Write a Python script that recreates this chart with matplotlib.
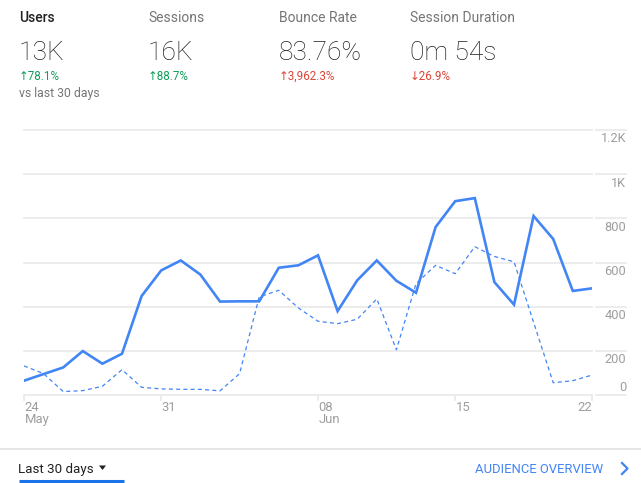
import matplotlib
matplotlib.use("Agg")
import matplotlib.pyplot as plt
from matplotlib.lines import Line2D
from matplotlib.patches import Polygon

plt.rcParams['font.family'] = ['Roboto', 'DejaVu Sans']

# Users per day, 24 May .. 22 Jun, and the previous 30 days (dashed)
users = [66, 96, 126, 200, 143, 188, 449, 565, 610, 546, 424, 425, 425, 577, 588,
         633, 381, 520, 610, 518, 464, 761, 878, 892, 512, 410, 811, 707, 472, 484]
previous = [133, 98, 17, 21, 41, 116, 36, 29, 27, 27, 20, 98, 445, 475, 395,
            335, 324, 344, 436, 206, 505, 588, 550, 672, 628, 604, 330, 57, 66, 92]

x_ticks = [0, 7, 15, 22, 29]
x_days = ["24", "31", "08", "15", "22"]
x_months = ["May", "", "Jun", "", ""]

y_ticks = [0, 200, 400, 600, 800, 1000, 1200]
y_labels = ["0", "200", "400", "600", "800", "1K", "1.2K"]

metric_names = ["Users", "Sessions", "Bounce Rate", "Session Duration"]
metric_values = ["13K", "16K", "83.76%", "0m 54s"]
metric_changes = ["\u219178.1%", "\u219188.7%", "\u21913,962.3%", "\u219326.9%"]
change_good = [True, True, False, False]

W, H = 641, 483
BLUE = "#4285f4"
GRID = "#ebebeb"
LABEL = "#9e9e9e"


def fx(x):
    return x / W


def fy(y):
    return 1 - y / H


fig = plt.figure(figsize=(W / 100, H / 100), dpi=100)

# plot area: x 24..592.4 px, value 0 at y=395.3, 1200 at y=130
left, right, top, bottom = 24, 592.4, 130, 395.3
ax = fig.add_axes([fx(left), fy(bottom), fx(right - left), (bottom - top) / H])
ax.set_xlim(0, len(users) - 1)
ax.set_ylim(0, 1200)
for s in ax.spines.values():
    s.set_visible(False)
ax.set_xticks([])
ax.set_yticks([])

aw = right - left
for v, lab in zip(y_ticks, y_labels):
    ax.axhline(v, color=GRID, lw=1.3, clip_on=False, zorder=0)
    ax.axhline(v, xmin=(596 - left) / aw, xmax=(626 - left) / aw,
               color=GRID, lw=1.3, clip_on=False, zorder=0)
    dy = 4.3 if v == 0 else -12.3
    ax.annotate(lab, xy=(1, v), xycoords=ax.get_yaxis_transform(),
                xytext=(626 - right, dy), textcoords="offset pixels",
                ha="right", va="baseline", fontsize=9.2, color=LABEL,
                annotation_clip=False)

last = len(users) - 1
for i, d, m in zip(x_ticks, x_days, x_months):
    ha = "right" if i == last else "left"
    ox = -0.5 if i == last else 0.5
    ax.plot([i, i], [0, -5 / 0.2211], color=GRID, lw=1.3, clip_on=False, zorder=0)
    ax.annotate(d, xy=(i, 0), xycoords="data", xytext=(ox, -15.5),
                textcoords="offset pixels", ha=ha, va="baseline",
                fontsize=9.4, color=LABEL, annotation_clip=False)
    if m:
        ax.annotate(m, xy=(i, 0), xycoords="data", xytext=(ox, -27.5),
                    textcoords="offset pixels", ha=ha, va="baseline",
                    fontsize=9.4, color=LABEL, annotation_clip=False)

days = list(range(len(users)))
ax.plot(days, previous, color=BLUE, lw=0.9, dashes=(3.2, 2.6), zorder=2)
ax.plot(days, users, color=BLUE, lw=1.9, zorder=3, solid_joinstyle="miter")

# metric header
cols = [19, 148, 279, 410]
for k, (name, val, ch, good) in enumerate(zip(metric_names, metric_values,
                                                metric_changes, change_good)):
    x = fx(cols[k])
    fig.text(x, fy(21.7), name, fontsize=10, ha="left", va="baseline",
             color="#212121" if k == 0 else "#757575",
             fontweight="medium" if k == 0 else "normal")
    fig.text(x, fy(60), val, fontsize=19, ha="left", va="baseline",
             color="#202020", fontweight="light")
    fig.text(x, fy(80), ch, fontsize=8.4, ha="left", va="baseline",
             color="#0f9d58" if good else "#db4437")
fig.text(fx(19), fy(97.3), "vs last 30 days", fontsize=8.8, ha="left",
         va="baseline", color="#757575")

# footer
fig.add_artist(Line2D([0, 1], [fy(449.3), fy(449.3)], transform=fig.transFigure,
                      color="#e0e0e0", lw=1.2))
fig.text(fx(18.5), fy(472.7), "Last 30 days", fontsize=9.6, ha="left",
         va="baseline", color="#212121")
fig.add_artist(Polygon([[fx(99), fy(465.5)], [fx(106), fy(465.5)], [fx(102.5), fy(470)]],
                       closed=True, transform=fig.transFigure, color="#212121", lw=0))
fig.add_artist(Line2D([fx(18.5), fx(123.5)], [fy(480.5), fy(480.5)],
                      transform=fig.transFigure, color="#1a73e8", lw=2.2,
                      solid_capstyle="butt"))
fig.text(fx(603.5), fy(472.7), "AUDIENCE OVERVIEW", fontsize=9.4, ha="right",
         va="baseline", color=BLUE)
fig.add_artist(Line2D([fx(622), fx(627.5), fx(622)], [fy(463), fy(468.5), fy(474)],
                      transform=fig.transFigure, color=BLUE, lw=1.6))

fig.savefig("out.png", dpi=100)
